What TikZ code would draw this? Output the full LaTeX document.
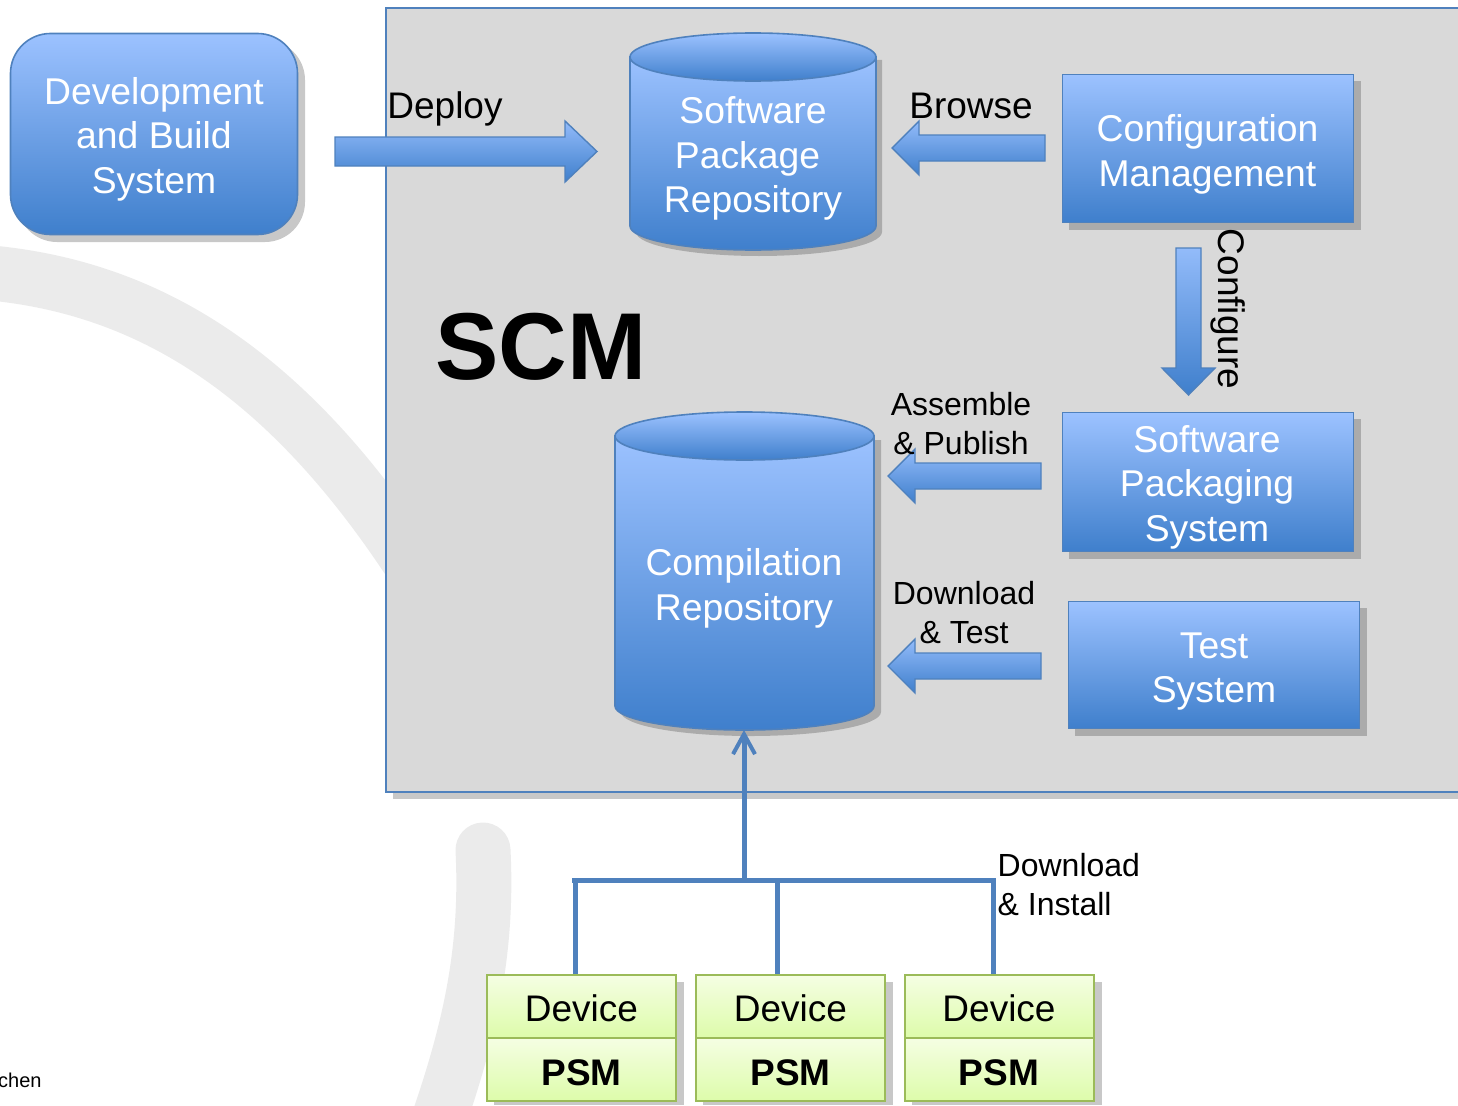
\documentclass[tikz,border=0pt]{standalone}
\usepackage{fontspec}
\setmainfont{Liberation Sans}
\usetikzlibrary{arrows.meta}
\definecolor{edge}{HTML}{4F81BD}
\definecolor{topblue}{HTML}{9CC2FF}
\definecolor{botblue}{HTML}{3F7FCC}
\definecolor{panel}{HTML}{D9D9D9}
\definecolor{swoosh}{HTML}{EBEBEB}
\definecolor{shadowout}{HTML}{C8C8C8}
\definecolor{shadowin}{HTML}{ABABAB}
\definecolor{greenedge}{HTML}{9BBB59}
\definecolor{greentop}{HTML}{F5FEE3}
\definecolor{greenbot}{HTML}{DDFCAA}
\tikzset{
  blueshade/.style={top color=topblue,bottom color=botblue,draw=edge,line width=1.6pt},
  box/.style={blueshade,minimum width=#1,inner sep=0pt},
  sysbox/.style={box=291pt},
  blockarrow/.style={top color=topblue!90!botblue,bottom color=botblue,draw=edge,line width=1.4pt,line join=miter},
  lbl/.style={text=black,align=center,inner sep=0pt,font=\fontsize{37}{44.6}\selectfont},
  lblsmall/.style={text=black,align=center,inner sep=0pt,font=\fontsize{32}{39}\selectfont},
  whitelbl/.style={text=white,align=center,inner sep=0pt,font=\fontsize{37.3}{44.6}\selectfont},
  devbox/.style={top color=greentop,bottom color=greenbot,draw=greenedge,line width=2pt,minimum width=189pt,minimum height=63pt,inner sep=0pt},
  bus/.style={draw=edge,line width=5pt},
  swooshline/.style={draw=swoosh,line width=55pt}
}
\begin{document}
\begin{tikzpicture}[x=1pt,y=-1pt]
\useasboundingbox (0,0) rectangle (1458,1105);
% background swooshes
\draw[swooshline] (-20,272) .. controls (150,285) and (300,375) .. (440,610);
\draw[swooshline,line cap=round] (483,850) .. controls (488,950) and (470,1030) .. (437,1125);
\node[anchor=base west,inner sep=0pt,font=\fontsize{20}{24}\selectfont] (chen) at (-2,1087) {chen};
% SCM panel
\fill[shadowout] (393,15) rectangle (1470,799);
\node[fill=panel,draw=edge,line width=2pt,anchor=north west,minimum width=1090pt,minimum height=784pt,inner sep=0pt] (scm) at (385,7) {};
\node[anchor=base west,inner sep=0pt,font=\fontsize{95}{100}\selectfont\bfseries] (scmt) at (435,379) {SCM};
% Development box
\fill[shadowout,rounded corners=40pt] (17,40) rectangle (305,242);
\node[box=287pt,minimum height=201pt,rounded corners=40pt] (dev) at (154,134) {};
\node[whitelbl] (devt) at (154,139) {Development\\and Build\\System};
% Package repository
\fill[shadowin] (636,60) -- (882,60) -- (882,232) arc[start angle=360,end angle=180,x radius=123pt,y radius=24pt] -- cycle;
\path[blueshade] (630,57) -- (630,226) arc[start angle=180,end angle=360,x radius=123pt,y radius=24pt] -- (876,57) -- cycle;
\path[blueshade] (753,57) ellipse[x radius=123pt,y radius=24pt];
\node[whitelbl] (pkg) at (753,158.5) {Software\\\mbox{Package\hspace{11pt}}\\Repository};
% Compilation repository
\fill[shadowin] (621,440) -- (881,440) -- (881,712) arc[start angle=360,end angle=180,x radius=130pt,y radius=24pt] -- cycle;
\path[blueshade] (615,436) -- (615,706) arc[start angle=180,end angle=360,x radius=129.5pt,y radius=24pt] -- (874,436) -- cycle;
\path[blueshade] (744.5,436) ellipse[x radius=129.5pt,y radius=24pt];
\node[whitelbl] (comp) at (744,588.5) {Compilation\\Repository};
\coordinate (compbot) at (744,730);
% system boxes
\fill[shadowin] (1069,81) rectangle (1361,230);
\node[sysbox,minimum height=148pt] (cfg) at (1208,148.5) {};
\node[whitelbl] (cfgt) at (1207.5,154.5) {Configuration\\Management};
\fill[shadowin] (1069,419) rectangle (1361,559);
\node[sysbox,minimum height=139pt] (pack) at (1208,482) {};
\node[whitelbl] (packt) at (1207,487) {Software\\Packaging\\System};
\fill[shadowin] (1075,608) rectangle (1367,736);
\node[sysbox,minimum height=127pt] (test) at (1214,665) {};
\node[whitelbl] (testt) at (1214,671.5) {Test\\System};
% block arrows
\path[blockarrow] (335,137) -- (565,137) -- (565,121) -- (597,151.5) -- (565,182) -- (565,166) -- (335,166) -- cycle;
\path[blockarrow] (892,148) -- (919,121) -- (919,135) -- (1045,135) -- (1045,161) -- (919,161) -- (919,175) -- cycle;
\path[blockarrow] (1176,248) -- (1201,248) -- (1201,368) -- (1215,368) -- (1188.5,395) -- (1162,368) -- (1176,368) -- cycle;
\path[blockarrow] (888,476) -- (915,449) -- (915,463) -- (1041,463) -- (1041,489) -- (915,489) -- (915,503) -- cycle;
\path[blockarrow] (888,666) -- (915,639) -- (915,653) -- (1041,653) -- (1041,679) -- (915,679) -- (915,693) -- cycle;
% arrow labels
\node[lbl] (deploy) at (445,109) {Deploy};
\node[lbl] (browse) at (971,106) {Browse};
\node[lbl,rotate=-90] (conf) at (1228,309) {Configure};
\node[lblsmall] (asm) at (961,424) {Assemble\\\& Publish};
\node[lblsmall] (dlt) at (964,613) {Download\\\& Test};
\node[lblsmall,align=left,anchor=north west] (dli) at (997.5,853) {Download\\\& Install};
% devices
\foreach \n/\x in {a/581.5,b/790.5,c/999}{
  \fill[shadowout] (\x-87.5,982) rectangle (\x+102.5,1105);
  \node[devbox] (dev\n) at (\x,1006.5) {};
  \node[anchor=base,inner sep=0pt,font=\fontsize{37}{44}\selectfont] (devt\n) at (\x,1021) {Device};
  \node[devbox] (psm\n) at (\x,1069.5) {};
  \node[anchor=base,inner sep=0pt,font=\fontsize{37}{44}\selectfont\bfseries] (psmt\n) at (\x,1085) {PSM};
}
% bus
\coordinate (hub) at (744,880);
\coordinate (busl) at (575,880);
\coordinate (busm) at (777.5,880);
\coordinate (busr) at (993,880);
\draw[bus,-{Straight Barb[length=20pt,width=22pt,line width=4pt]}] (hub) -- (compbot);
\draw[bus] (572,880) -- (996,880);
\draw[bus] (deva.north -| busl) -- (busl);
\draw[bus] (devb.north -| busm) -- (busm);
\draw[bus] (devc.north -| busr) -- (busr);
\end{tikzpicture}
\end{document}
